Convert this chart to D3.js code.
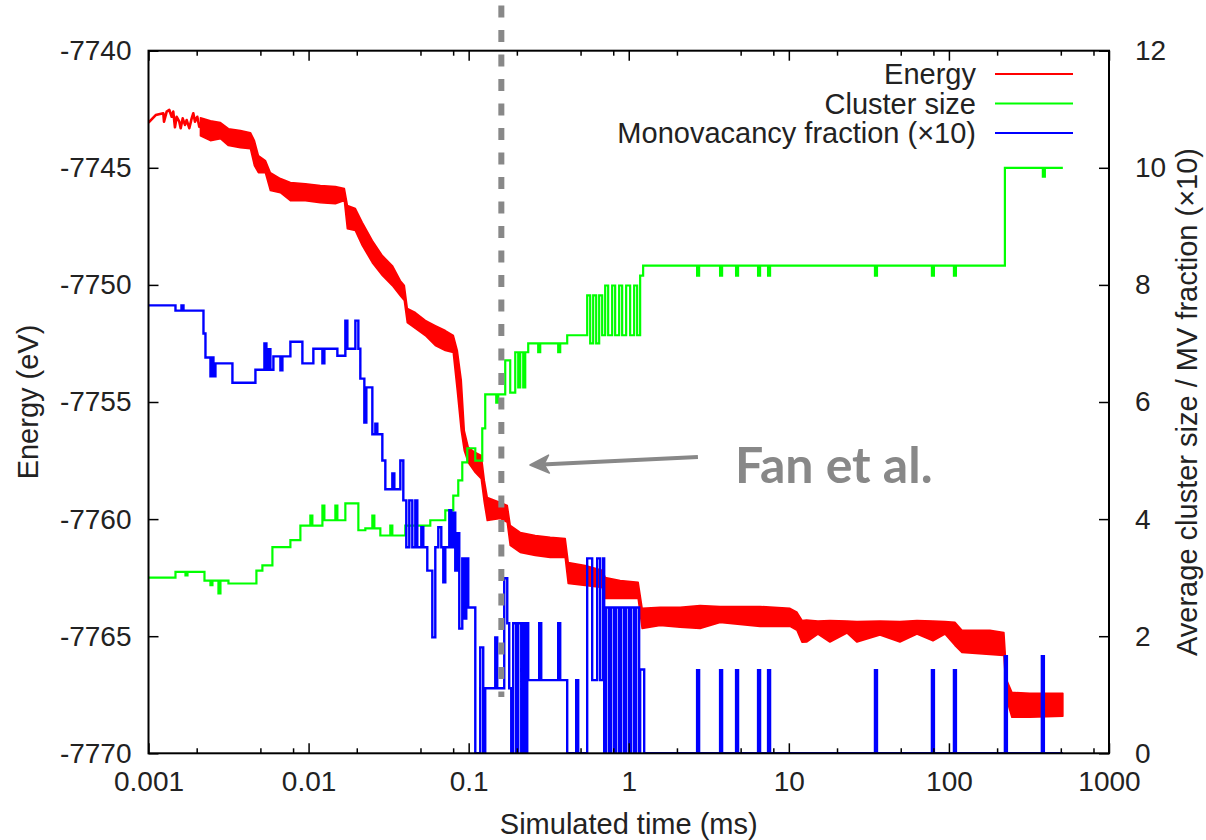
<!DOCTYPE html>
<html>
<head>
<meta charset="utf-8">
<script src="https://cdn.jsdelivr.net/npm/d3@7"></script>
<style>
  html, body { margin: 0; padding: 0; background: #fff; }
  svg { display: block; }
</style>
</head>
<body>
<svg id="chart" width="1206" height="840"></svg>
<script>
// ---- Energy trace (eV) ----
// early part: single noisy trace
const energyZigT = [0.001, 0.001109, 0.001237, 0.00125, 0.001299, 0.001349, 0.001396, 0.001428, 0.001463, 0.0015,
  0.001557, 0.001589, 0.001635, 0.00169, 0.001732, 0.001798, 0.001861, 0.001905, 0.001952, 0.002017,
  0.002076, 0.002149, 0.002199, 0.002254];
const energyZigE = [-7743.07, -7742.75, -7742.67, -7743.03, -7742.60, -7742.53, -7742.82, -7742.60, -7743.27, -7742.82,
  -7743.03, -7743.31, -7742.89, -7743.17, -7742.96, -7743.31, -7742.89, -7742.67, -7743.03, -7742.82,
  -7743.25, -7743.03, -7743.53, -7743.17];
// later part: upper and lower edge of the fluctuating band
const energyT = [0.002111, 0.002438,
  0.002815, 0.003158, 0.003752, 0.004332, 0.004588, 0.004860, 0.005374, 0.005774, 0.006668, 0.007698,
  0.009554, 0.01185, 0.0147, 0.01673, 0.01747, 0.0196, 0.02167, 0.02502, 0.02889, 0.03336,
  0.03742, 0.03963, 0.04137, 0.04642, 0.05359, 0.06188, 0.07145, 0.08015, 0.08488, 0.08989,
  0.09386, 0.09943, 0.11, 0.1198, 0.1252, 0.1307, 0.1575, 0.1742, 0.1818, 0.2099,
  0.2605, 0.3232, 0.4009, 0.4186, 0.5344, 0.6823, 0.7124, 0.8838, 1.145, 1.212,
  1.571, 2.094, 2.791, 3.72, 6.612, 10.17, 11.25, 12.09, 12.9, 15.2,
  18.06, 23.07, 26.65, 37.09, 49.44, 63.14, 79.5, 94.5, 109.0, 120.6,
  180.3, 220.5, 230.2, 247.4, 320.4, 514.8];
const energyHi = [-7742.86, -7742.99,
  -7743.07, -7743.33, -7743.41, -7743.50, -7743.84, -7744.48, -7744.69, -7745.21, -7745.46, -7745.63,
  -7745.68, -7745.76, -7745.80, -7745.89, -7746.61, -7746.74, -7747.34, -7748.11, -7748.75, -7749.18,
  -7749.82, -7750.03, -7751.01, -7751.18, -7751.52, -7751.74, -7751.95, -7752.16, -7752.80, -7754.08,
  -7756.22, -7756.94, -7757.16, -7757.28, -7758.35, -7759.08, -7759.29, -7759.42, -7760.27, -7760.57,
  -7760.70, -7760.78, -7760.83, -7761.85, -7761.98, -7762.19, -7762.49, -7762.62, -7762.70, -7763.81,
  -7763.77, -7763.77, -7763.69, -7763.73, -7763.73, -7763.81, -7763.98, -7764.33, -7764.31, -7764.35,
  -7764.33, -7764.35, -7764.37, -7764.35, -7764.37, -7764.33, -7764.35, -7764.37, -7764.41, -7764.75,
  -7764.75, -7764.84, -7766.89, -7767.40, -7767.44, -7767.44];
const energyLo = [-7743.63, -7743.84,
  -7743.76, -7744.05, -7744.14, -7744.18, -7744.91, -7745.21, -7745.21, -7745.97, -7746.06, -7746.40,
  -7746.40, -7746.49, -7746.53, -7746.40, -7747.60, -7747.68, -7748.32, -7749.05, -7749.60, -7750.03,
  -7750.46, -7750.67, -7751.61, -7751.86, -7752.16, -7752.59, -7752.80, -7752.89, -7754.51, -7756.22,
  -7757.07, -7757.58, -7758.01, -7758.27, -7759.29, -7760.06, -7759.97, -7760.14, -7761.12, -7761.42,
  -7761.55, -7761.64, -7761.64, -7762.75, -7762.83, -7762.92, -7763.39, -7763.39, -7763.39, -7764.67,
  -7764.54, -7764.62, -7764.67, -7764.41, -7764.58, -7764.58, -7764.75, -7765.26, -7765.25, -7764.91,
  -7765.25, -7764.86, -7765.25, -7764.95, -7765.25, -7764.91, -7765.20, -7764.91, -7765.39, -7765.69,
  -7765.78, -7765.82, -7767.74, -7768.46, -7768.46, -7768.42];

// ---- Average cluster size (right axis), stepwise ----
const clusterT = [0.001, 0.001474, 0.001702, 0.001752, 0.002237, 0.002438, 0.002509, 0.002735, 0.002815, 0.003158,
  0.004722, 0.005146, 0.005943, 0.007698, 0.008888, 0.01026, 0.01056, 0.0122, 0.01255, 0.0147,
  0.01513, 0.01697, 0.02046, 0.02262, 0.02502, 0.02575, 0.02807, 0.0324, 0.03336, 0.04021,
  0.05758, 0.07145, 0.08015, 0.0861, 0.09122, 0.09801, 0.11, 0.1216, 0.1269, 0.1487,
  0.153, 0.1692, 0.1818, 0.1954, 0.204, 0.2099, 0.2192, 0.2256, 0.2355, 0.2719,
  0.2799, 0.3625, 0.3731, 0.4126, 0.55, 0.5742, 0.5995, 0.626, 0.6535, 0.6823,
  0.7124, 0.7437, 0.7877, 0.8224, 0.871, 0.9095, 0.9633, 1.0203, 1.0807, 1.1284,
  1.1781, 1.23, 2.673, 2.751, 3.72, 3.829, 4.682, 4.818, 6.424, 6.612,
  7.418, 7.634, 34.52, 35.53, 78.31, 80.59, 107.5, 110.6, 223.7, 386.2,
  397.4, 514.8];
const clusterV = [3.0, 3.1, 3.04, 3.1, 2.95, 2.87, 2.95, 2.73, 2.95, 2.9,
  3.12, 3.21, 3.52, 3.64, 3.89, 4.06, 3.89, 4.23, 3.98, 4.23,
  3.98, 4.27, 3.81, 3.84, 4.06, 3.84, 3.72, 3.89, 3.72, 3.89,
  3.98, 4.15, 4.40, 4.66, 4.97, 5.21, 5.00, 5.55, 6.13, 5.99,
  6.13, 6.71, 6.16, 6.85, 6.25, 6.85, 6.25, 6.85, 7.00, 6.85,
  7.00, 6.85, 7.00, 7.14, 7.82, 7.00, 7.82, 7.00, 7.82, 7.14,
  7.99, 7.14, 7.99, 7.14, 7.99, 7.14, 7.99, 7.14, 7.99, 7.14,
  8.16, 8.33, 8.16, 8.33, 8.16, 8.33, 8.16, 8.33, 8.16, 8.33,
  8.16, 8.33, 8.16, 8.33, 8.16, 8.33, 8.16, 8.33, 10.0, 9.85,
  10.0, 10.0];

// ---- Monovacancy fraction x10 (right axis), stepwise ----
const mvT = [0.001, 0.001474, 0.001607, 0.001654, 0.002205, 0.002269, 0.002438, 0.002474, 0.002545, 0.002619,
  0.003344, 0.004655, 0.005298, 0.005452, 0.005611, 0.005774, 0.006029, 0.006668, 0.006862, 0.007698,
  0.009148, 0.01071, 0.0122, 0.01255, 0.01513, 0.01697, 0.01747, 0.0196, 0.02046, 0.02105,
  0.0223, 0.02295, 0.02502, 0.02612, 0.02688, 0.02889, 0.03016, 0.03336, 0.03433, 0.03742,
  0.03906, 0.04077, 0.04257, 0.04445, 0.04642, 0.04777, 0.0506, 0.05207, 0.05515, 0.05927,
  0.06188, 0.06461, 0.06745, 0.06942, 0.07145, 0.07568, 0.07789, 0.08015, 0.08246, 0.08488,
  0.08736, 0.09122, 0.09386, 0.09661, 0.09943, 0.11, 0.1181, 0.1233, 0.1269, 0.1466,
  0.1508, 0.1668, 0.1742, 0.1792, 0.1845, 0.1898, 0.1982, 0.204, 0.213, 0.2192,
  0.2256, 0.2322, 0.2355, 0.2759, 0.284, 0.3625, 0.3731, 0.4126, 0.4696, 0.4833,
  0.55, 0.5909, 0.635, 0.663, 0.6922, 0.7022, 0.7227, 0.7545, 0.7765, 0.8107,
  0.8343, 0.871, 0.8965, 0.936, 0.9633, 1.0058, 1.0351, 1.0807, 1.1122, 1.1612,
  1.1781, 1.2485, 2.673, 2.751, 3.72, 3.829, 4.682, 4.818, 6.424, 6.612,
  7.418, 7.634, 34.52, 35.53, 78.31, 80.59, 107.5, 110.6, 223.7, 230.2,
  380.7, 391.8, 514.8];
const mvV = [7.65, 7.56, 7.65, 7.56, 7.17, 6.76, 6.44, 6.76, 6.44, 6.66,
  6.33, 6.55, 7.00, 6.55, 6.90, 6.55, 6.78, 6.54, 6.78, 7.03,
  6.66, 6.91, 6.66, 6.91, 6.79, 7.39, 6.91, 7.39, 6.91, 6.40,
  5.65, 6.25, 5.45, 5.63, 5.45, 5.00, 4.51, 4.78, 4.51, 5.00,
  4.32, 3.52, 4.32, 3.52, 4.32, 3.52, 3.86, 3.52, 3.12, 1.98,
  3.52, 3.86, 3.52, 2.92, 3.52, 4.15, 3.52, 4.11, 3.12, 3.76,
  2.13, 3.33, 2.30, 3.33, 2.49, 0, 1.81, 0, 1.11, 1.98,
  1.11, 2.99, 2.22, 1.11, 0, 2.22, 0, 2.22, 0, 2.22,
  0, 2.22, 1.25, 2.22, 1.25, 2.22, 1.25, 0, 1.25, 0,
  3.33, 1.25, 3.33, 1.25, 3.33, 0, 2.49, 0, 2.49, 0,
  2.49, 0, 2.49, 0, 2.49, 0, 2.49, 0, 2.49, 0,
  1.43, 0, 1.42, 0, 1.42, 0, 1.42, 0, 1.42, 0,
  1.42, 0, 1.42, 0, 1.42, 0, 1.42, 0, 1.66, 0,
  1.66, 0, 0];

// ---- Axes ----
const timeTicks = [0.001, 0.01, 0.1, 1, 10, 100, 1000];
const timeTickLabels = ["0.001", "0.01", "0.1", "1", "10", "100", "1000"];
const timeMinorMantissas = [2, 5, 8];
const energyTicks = [-7770, -7765, -7760, -7755, -7750, -7745, -7740];
const rightTicks = [0, 2, 4, 6, 8, 10, 12];

// ---- Legend and annotation ----
const legendLabels = ["Energy", "Cluster size", "Monovacancy fraction (\u00d710)"];
const legendColors = ["#ff0000", "#00ff00", "#0000ff"];
const markerTime = 0.16;                       // vertical dashed marker
const markerSpan = [-7737.84, -7767.6];
const arrowFrom = [2.705, -7757.35];           // [time, energy]
const arrowTo = [0.2415, -7757.69];
const noteText = "Fan et al.";
const notePos = [4.61, -7758.46];

// ---------------------------------------------------------------------
const svg = d3.select("#chart");
const font = "'Liberation Sans', Arial, Helvetica, sans-serif";
const L = 148.5, R = 1109, T = 50.7, B = 753.3;
const tickPx = "28px", labelPx = "29px";

const x = d3.scaleLog().domain([1e-3, 1e3]).range([L, R]);
const yE = d3.scaleLinear().domain([-7770, -7740]).range([B, T]);
const yR = d3.scaleLinear().domain([0, 12]).range([B, T]);

svg.append("rect").attr("width", 1206).attr("height", 840).attr("fill", "#fff");

svg.append("defs").append("clipPath").attr("id", "plotclip")
  .append("rect").attr("x", L).attr("y", T).attr("width", R - L).attr("height", B - T);

const plot = svg.append("g").attr("clip-path", "url(#plotclip)");

// energy: early noisy trace
const zIdx = d3.range(energyZigT.length);
plot.append("path")
  .attr("d", d3.line().x(i => x(energyZigT[i])).y(i => yE(energyZigE[i]))(zIdx))
  .attr("fill", "none")
  .attr("stroke", "#ff0000")
  .attr("stroke-width", 2.6)
  .attr("stroke-linejoin", "round");

// energy: fluctuating band
const eIdx = d3.range(energyT.length);
plot.append("path")
  .attr("d", d3.area()
    .x(i => x(energyT[i]))
    .y0(i => yE(energyLo[i]))
    .y1(i => yE(energyHi[i]))(eIdx))
  .attr("fill", "#ff0000")
  .attr("stroke", "#ff0000")
  .attr("stroke-width", 1.6)
  .attr("stroke-linejoin", "round");

// cluster size
const cIdx = d3.range(clusterT.length);
plot.append("path")
  .attr("d", d3.line().curve(d3.curveStepAfter)
    .x(i => x(clusterT[i])).y(i => yR(clusterV[i]))(cIdx))
  .attr("fill", "none")
  .attr("stroke", "#00ff00")
  .attr("stroke-width", 2.2);

// monovacancy fraction
const mIdx = d3.range(mvT.length);
plot.append("path")
  .attr("d", d3.line().curve(d3.curveStepAfter)
    .x(i => x(mvT[i])).y(i => yR(mvV[i]))(mIdx))
  .attr("fill", "none")
  .attr("stroke", "#0000ff")
  .attr("stroke-width", 2.4);

// ---- axes ----
function styleAxis(g) {
  g.select(".domain").remove();
  g.selectAll(".tick line").attr("stroke", "#000").attr("stroke-width", 1.5);
  g.selectAll(".tick text").attr("fill", "#222").style("font-family", font).style("font-size", tickPx);
}

svg.append("g").attr("transform", `translate(${L},0)`)
  .call(d3.axisLeft(yE).tickValues(energyTicks).tickSize(-10).tickPadding(17)
    .tickFormat(d => String(d)))
  .call(styleAxis);

svg.append("g").attr("transform", `translate(${R},0)`)
  .call(d3.axisRight(yR).tickValues(rightTicks).tickSize(-10).tickPadding(26)
    .tickFormat(d => String(d)))
  .call(styleAxis);

svg.append("g").attr("transform", `translate(0,${B})`)
  .call(d3.axisBottom(x).tickValues(timeTicks).tickSize(-10).tickPadding(18)
    .tickFormat((d, i) => timeTickLabels[i]))
  .call(styleAxis);

svg.append("g").attr("transform", `translate(0,${T})`)
  .call(d3.axisTop(x).tickValues(timeTicks).tickSize(-10).tickFormat(""))
  .call(styleAxis);

const minorTicks = [];
timeTicks.slice(0, -1).forEach(d => timeMinorMantissas.forEach(m => minorTicks.push(d * m)));

svg.append("g").attr("transform", `translate(0,${B})`)
  .call(d3.axisBottom(x).tickValues(minorTicks).tickSize(-5).tickFormat(""))
  .call(styleAxis);
svg.append("g").attr("transform", `translate(0,${T})`)
  .call(d3.axisTop(x).tickValues(minorTicks).tickSize(-5).tickFormat(""))
  .call(styleAxis);

// frame
svg.append("rect").attr("x", L).attr("y", T).attr("width", R - L).attr("height", B - T)
  .attr("fill", "none").attr("stroke", "#000").attr("stroke-width", 2);

// axis titles
svg.append("text").attr("x", (L + R) / 2).attr("y", 834)
  .attr("text-anchor", "middle").style("font-family", font).style("font-size", labelPx)
  .attr("fill", "#222").text("Simulated time (ms)");

svg.append("text").attr("transform", `translate(38,${(T + B) / 2}) rotate(-90)`)
  .attr("text-anchor", "middle").style("font-family", font).style("font-size", labelPx)
  .attr("fill", "#222").text("Energy (eV)");

svg.append("text").attr("transform", `translate(1197,${(T + B) / 2}) rotate(-90)`)
  .attr("text-anchor", "middle").style("font-family", font).style("font-size", labelPx)
  .attr("fill", "#222").text("Average cluster size / MV fraction (\u00d710)");

// legend
const legend = svg.append("g");
legendLabels.forEach((lab, i) => {
  const yy = 74 + i * 29.5;
  legend.append("text").attr("x", 976).attr("y", yy + 10)
    .attr("text-anchor", "end").style("font-family", font).style("font-size", labelPx)
    .attr("fill", "#222").text(lab);
  legend.append("line").attr("x1", 995).attr("x2", 1073).attr("y1", yy).attr("y2", yy)
    .attr("stroke", legendColors[i]).attr("stroke-width", 2);
});

// dashed marker line
svg.append("line")
  .attr("x1", x(markerTime)).attr("x2", x(markerTime))
  .attr("y1", yE(markerSpan[0])).attr("y2", yE(markerSpan[1]))
  .attr("stroke", "#888").attr("stroke-width", 6)
  .attr("stroke-dasharray", "12 12.5").attr("stroke-dashoffset", 19);

// arrow
const ax0 = x(arrowFrom[0]), ay0 = yE(arrowFrom[1]);
const ax1 = x(arrowTo[0]), ay1 = yE(arrowTo[1]);
const ang = Math.atan2(ay1 - ay0, ax1 - ax0);
const headLen = 19, headHalf = 9;
svg.append("line")
  .attr("x1", ax0).attr("y1", ay0)
  .attr("x2", ax1 - Math.cos(ang) * 12).attr("y2", ay1 - Math.sin(ang) * 12)
  .attr("stroke", "#888").attr("stroke-width", 4);
const bx = ax1 - Math.cos(ang) * headLen, by = ay1 - Math.sin(ang) * headLen;
const px = -Math.sin(ang) * headHalf, py = Math.cos(ang) * headHalf;
const nx = ax1 - Math.cos(ang) * (headLen - 5), ny = ay1 - Math.sin(ang) * (headLen - 5);
svg.append("path")
  .attr("d", `M${ax1},${ay1}L${bx + px},${by + py}L${nx},${ny}L${bx - px},${by - py}Z`)
  .attr("fill", "#888").attr("stroke", "#888").attr("stroke-width", 1.5).attr("stroke-linejoin", "round");

svg.append("text").attr("x", x(notePos[0])).attr("y", yE(notePos[1]))
  .style("font-family", "Lato, 'Open Sans', sans-serif").style("font-weight", "700")
  .style("font-size", "50px").attr("fill", "#888").text(noteText);
</script>
</body>
</html>
